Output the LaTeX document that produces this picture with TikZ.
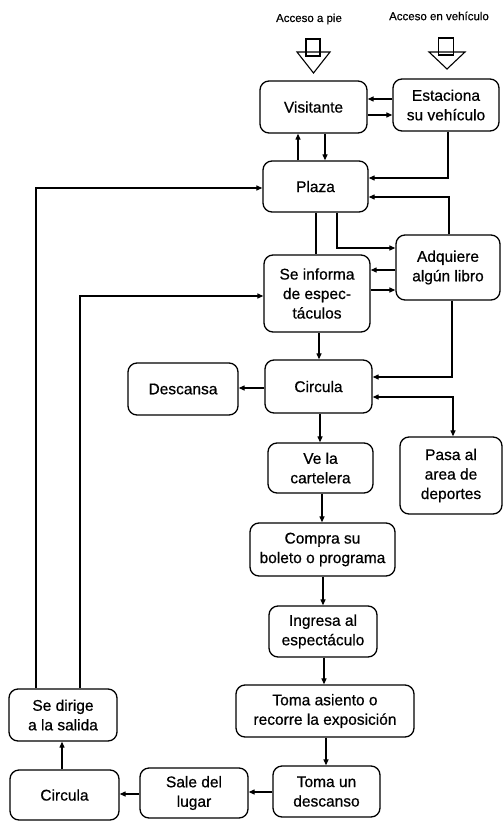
\documentclass[tikz,border=0pt]{standalone}
\usepackage{fontspec}
\setmainfont[FakeBold=0.6]{Liberation Sans}
\usetikzlibrary{arrows.meta}
\begin{document}
\begin{tikzpicture}[x=1pt,y=-1pt,
  box/.style={draw, line width=1.3pt, rounded corners=9pt, align=center, inner sep=0pt,
    font=\fontsize{15.5}{19.5}\selectfont},
  arr/.style={line width=1.2pt, -{Triangle[length=6pt,width=5pt]}},
  arrb/.style={line width=1.2pt, {Triangle[length=6pt,width=5pt]}-{Triangle[length=6pt,width=5pt]}},
  ln/.style={line width=1.2pt},
  lbl/.style={font=\fontsize{11.5}{13}\selectfont, inner sep=0pt}]
\useasboundingbox[fill=white] (0,0) rectangle (503,821);

% access labels and hollow arrows
\node[lbl] (pie) at (309,19) {Acceso a pie};
\node[lbl] (veh) at (439,16) {Acceso en vehículo};
\draw[line width=1.1pt] (297,52) -- (330,52) -- (313.5,73) -- cycle;
\draw[line width=1.1pt] (306,39) rectangle (320,56);
\draw[line width=1.1pt] (429,52) -- (465,52) -- (447,69) -- cycle;
\draw[line width=1.1pt] (438.5,38) rectangle (453.5,55);

% nodes
\node[box, minimum width=107pt, minimum height=52pt] (vis) at (313.5,107) {Visitante};
\node[box, minimum width=106pt, minimum height=52pt] (est) at (446,105) {Estaciona\\su vehículo};
\node[box, minimum width=105pt, minimum height=51pt] (plaza) at (315.5,186.5) {Plaza};
\node[box, minimum width=106pt, minimum height=77pt] (info) at (317,293.5) {Se informa\\de espec-\\táculos};
\node[box, minimum width=104pt, minimum height=65pt] (adq) at (448,267.5) {Adquiere\\algún libro};
\node[box, minimum width=107pt, minimum height=53pt] (circ) at (318.5,386.5) {Circula};
\node[box, minimum width=110pt, minimum height=52pt] (desc) at (183,389) {Descansa};
\node[box, minimum width=102pt, minimum height=77pt] (pasa) at (451,475.5) {Pasa al\\area de\\deportes};
\node[box, minimum width=105pt, minimum height=50pt] (ve) at (320.5,468) {Ve la\\cartelera};
\node[box, minimum width=145pt, minimum height=53pt] (compra) at (322.5,549.5) {Compra su\\boleto o programa};
\node[box, minimum width=108pt, minimum height=51pt] (ingresa) at (323,631.5) {Ingresa al\\espectáculo};
\node[box, minimum width=178pt, minimum height=52pt] (asiento) at (325,711) {Toma asiento o\\recorre la exposición};
\node[box, minimum width=107pt, minimum height=51pt] (tomades) at (326.5,791.5) {Toma un\\descanso};
\node[box, minimum width=108pt, minimum height=50pt] (sale) at (194,793) {Sale del\\lugar};
\node[box, minimum width=109pt, minimum height=50pt] (circ2) at (64.5,795) {Circula};
\node[box, minimum width=108pt, minimum height=52pt] (dirige) at (63,715) {Se dirige\\a la salida};

% connectors
\draw[arr] (est.west |- 0,99) -- (vis.east |- 0,99);
\draw[arr] (vis.east |- 0,115) -- (est.west |- 0,115);
\draw[arr] (plaza.north -| 298,0) -- (vis.south -| 298,0);
\draw[arr] (vis.south -| 325,0) -- (plaza.north -| 325,0);
\draw[arr] (est.south -| 448,0) |- (plaza.east |- 0,178);
\draw[arr] (adq.north -| 449,0) |- (plaza.east |- 0,197);
\draw[ln] (plaza.south -| 316,0) -- (info.north -| 316,0);
\draw[arr] (plaza.south -| 337,0) |- (adq.west |- 0,248);
\draw[arr] (adq.west |- 0,270) -- (info.east |- 0,270);
\draw[arr] (info.east |- 0,290) -- (adq.west |- 0,290);
\draw[arr] (info.south -| 319,0) -- (circ.north -| 319,0);
\draw[arr] (adq.south -| 452,0) |- (circ.east |- 0,377);
\draw[arrb] (circ.east |- 0,397) -| (pasa.north -| 453,0);
\draw[arr] (circ.west |- 0,388) -- (desc.east |- 0,388);
\draw[arr] (circ.south -| 320,0) -- (ve.north -| 320,0);
\draw[arr] (ve.south -| 322,0) -- (compra.north -| 322,0);
\draw[arr] (compra.south -| 323,0) -- (ingresa.north -| 323,0);
\draw[arr] (ingresa.south -| 324,0) -- (asiento.north -| 324,0);
\draw[arr] (asiento.south -| 326,0) -- (tomades.north -| 326,0);
\draw[arr] (tomades.west |- 0,792) -- (sale.east |- 0,792);
\draw[arr] (sale.west |- 0,794) -- (circ2.east |- 0,794);
\draw[arr] (circ2.north -| 62,0) -- (dirige.south -| 62,0);
\draw[arr] (dirige.north -| 36,0) |- (plaza.west |- 0,188);
\draw[arr] (dirige.north -| 80,0) |- (info.west |- 0,296);
\end{tikzpicture}
\end{document}
